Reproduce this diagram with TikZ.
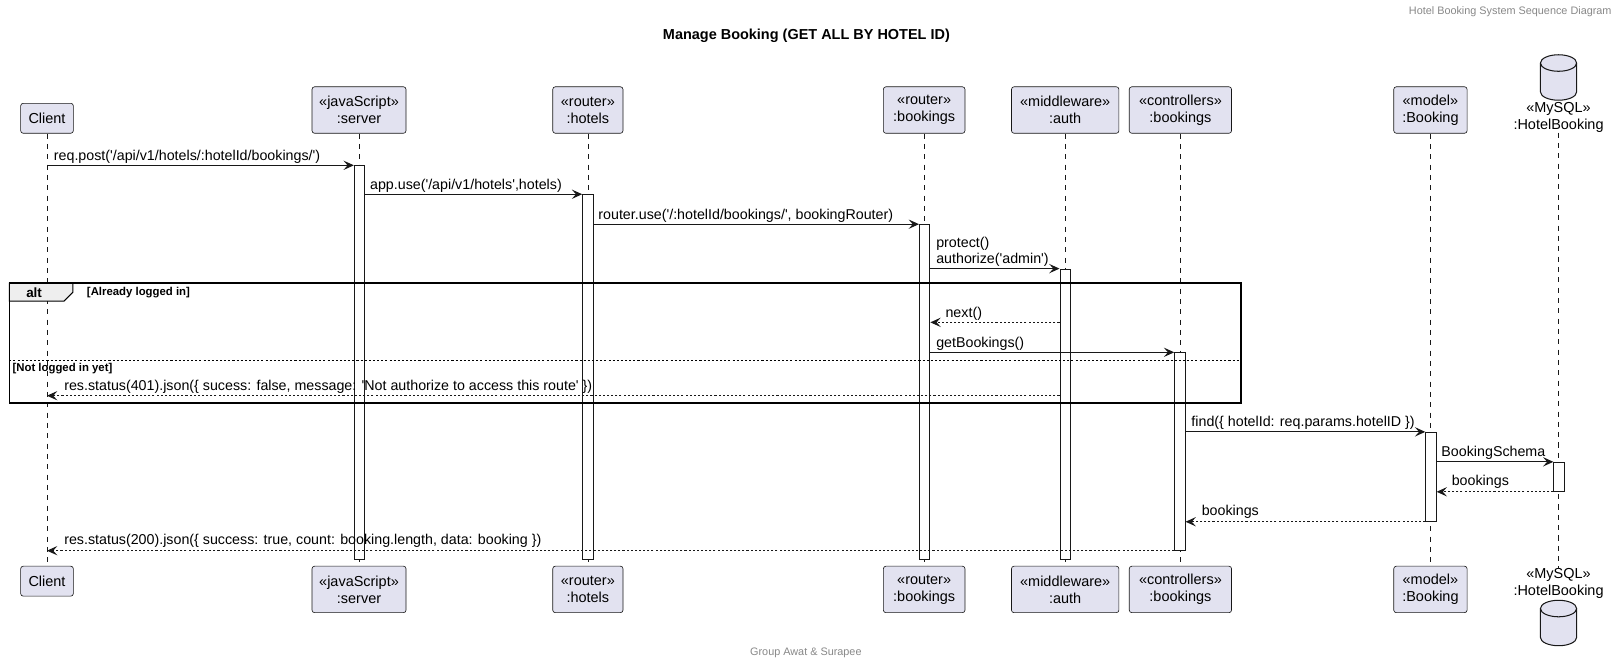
\documentclass[tikz,border=0pt]{standalone}
\usepackage{fontspec}
\newfontfamily\uf{Liberation Sans}
\usetikzlibrary{arrows.meta,calc}
\definecolor{pfill}{HTML}{E2E2F0}
\definecolor{pline}{HTML}{181818}
\definecolor{tabfill}{HTML}{EEEEEE}
\definecolor{hdr}{HTML}{888888}
\tikzset{
  part/.style={draw=pline, fill=pfill, line width=0.6pt, rounded corners=2.5pt, align=center,
    inner sep=0pt, font=\uf\fontsize{14}{16.5}\selectfont, minimum height=45pt},
  partone/.style={part, minimum height=29pt},
  dbtext/.style={align=center, inner sep=0pt, font=\uf\fontsize{14}{16.5}\selectfont},
  life/.style={draw=pline, line width=0.5pt, dash pattern=on 5pt off 5pt},
  actbar/.style={draw=pline, fill=white, line width=1pt, minimum width=10pt, inner sep=0pt, anchor=north},
  msg/.style={draw=pline, line width=1pt, -{Stealth[length=10pt,width=9pt,inset=4pt]}},
  ret/.style={msg, dash pattern=on 2pt off 2pt},
  lbl/.style={font=\uf\fontsize{13.8}{15}\selectfont, anchor=base west, inner sep=0pt},
  guard/.style={font=\uf\bfseries\fontsize{11}{13}\selectfont, anchor=west, inner sep=0pt},
  frame/.style={draw=black, line width=1.5pt},
  tabshape/.style={draw=black, fill=tabfill, line width=1pt},
  sepline/.style={draw=black, line width=0.8pt, dash pattern=on 2pt off 2pt},
  cyl/.style={draw=pline, fill=pfill, line width=1pt},
  smalltext/.style={font=\uf\fontsize{10.5}{12}\selectfont, text=hdr, inner sep=0pt}
}
\begin{document}
\begin{tikzpicture}[x=1pt,y=-1pt]
\fill[white] (0,0) rectangle (1568,644);
\useasboundingbox (0,0) rectangle (1568,644);

% header, title, footer
\node[smalltext, anchor=east] (hdrtxt) at (1560,11) {Hotel Booking System Sequence Diagram};
\node[font=\uf\bfseries\fontsize{14}{16}\selectfont, inner sep=0pt] (title) at (780.5,35) {Manage Booking (GET ALL BY HOTEL ID)};
\node[smalltext] (footer) at (780,632) {Group Awat \& Surapee};

% participants (top)
\node[partone, minimum width=51pt] (tC) at (45.5,114.5) {Client};
\node[part, minimum width=91pt] (tS) at (347.5,106.5) {«javaScript»\\:server};
\node[part, minimum width=68pt] (tH) at (569,106.5) {«router»\\:hotels};
\node[part, minimum width=79pt] (tB) at (894.5,106.5) {«router»\\:bookings};
\node[part, minimum width=104pt] (tA) at (1031,106.5) {«middleware»\\:auth};
\node[part, minimum width=99pt] (tK) at (1142.5,106.5) {«controllers»\\:bookings};
\node[part, minimum width=71pt] (tM) at (1384.5,106.5) {«model»\\:Booking};
\node[dbtext] (tD) at (1508.5,113.5) {«MySQL»\\:HotelBooking};

% participants (bottom)
\node[partone, minimum width=51pt] (bC) at (45.5,562.5) {Client};
\node[part, minimum width=91pt] (bS) at (347.5,570.5) {«javaScript»\\:server};
\node[part, minimum width=68pt] (bH) at (569,570.5) {«router»\\:hotels};
\node[part, minimum width=79pt] (bB) at (894.5,570.5) {«router»\\:bookings};
\node[part, minimum width=104pt] (bA) at (1031,570.5) {«middleware»\\:auth};
\node[part, minimum width=99pt] (bK) at (1142.5,570.5) {«controllers»\\:bookings};
\node[part, minimum width=71pt] (bM) at (1384.5,570.5) {«model»\\:Booking};
\node[dbtext] (bD) at (1508.5,565) {«MySQL»\\:HotelBooking};

% database cylinders
\foreach \cy/\by in {61/89, 589/617}{
  \draw[cyl] (1491,\cy) -- (1491,\by) arc[start angle=180, end angle=0, x radius=17.5, y radius=8]
     -- (1526,\cy) arc[start angle=0, end angle=-180, x radius=17.5, y radius=8] -- cycle;
  \draw[cyl, fill=none] (1491,\cy) arc[start angle=180, end angle=0, x radius=17.5, y radius=8];
}

% lifelines
\foreach \n in {C,S,H,B,A,K,M,D}{
  \draw[life] (t\n.south) -- (b\n.north);
}

% activation bars
\node[actbar, minimum height=381pt] (aS) at (348,160) {};
\node[actbar, minimum height=353pt] (aH) at (569,188) {};
\node[actbar, minimum height=324pt] (aB) at (895,217) {};
\node[actbar, minimum height=281pt] (aA) at (1031,260) {};
\node[actbar, minimum height=191pt] (aK) at (1142,341) {};
\node[actbar, minimum height=86pt] (aM) at (1385,418) {};
\node[actbar, minimum height=28pt] (aD) at (1509,447) {};

% alt frame
\draw[tabshape] (9,274) -- (70.5,274) -- (70.5,283) -- (62,291.5) -- (9,291.5) -- cycle;
\draw[frame] (9,274) rectangle (1201,390);
\node[font=\uf\bfseries\fontsize{13}{15}\selectfont, inner sep=0pt] (altlbl) at (33,283) {alt};
\node[guard] (g1) at (84,283) {[Already logged in]};
\draw[sepline] (9,349) -- (1201,349);
\node[guard] (g2) at (12,356.5) {[Not logged in yet]};

% message levels
\coordinate (y1) at (0,160);
\coordinate (y5) at (0,312);
\coordinate (y7) at (0,383);

% messages
\draw[msg] (tC.south |- y1) -- (aS.north west);
\node[lbl] (l1) at (52,155) {req.post('/api/v1/hotels/:hotelId/bookings/')};

\draw[msg] (aS.east |- aH.north) -- (aH.north west);
\node[lbl] (l2) at (358,183) {app.use('/api/v1/hotels',hotels)};

\draw[msg] (aH.east |- aB.north) -- (aB.north west);
\node[lbl] (l3) at (579,212) {router.use('/:hotelId/bookings/', bookingRouter)};

\draw[msg] (aB.east |- aA.north) -- (aA.north west);
\node[lbl] (l4a) at (906,240) {protect()};
\node[lbl] (l4b) at (906,255) {authorize('admin')};

\draw[ret] (aA.west |- y5) -- (aB.east |- y5);
\node[lbl] (l5) at (915,307) {next()};

\draw[msg] (aB.east |- aK.north) -- (aK.north west);
\node[lbl] (l6) at (906,336) {getBookings()};

\draw[ret] (aA.west |- y7) -- (tC.south |- y7);
\node[lbl] (l7) at (62,378) {res.status(401).json(\{ sucess: false, message: 'Not authorize to access this route' \})};

\draw[msg] (aK.east |- aM.north) -- (aM.north west);
\node[lbl] (l8) at (1153,413) {find(\{ hotelId: req.params.hotelID \})};

\draw[msg] (aM.east |- aD.north) -- (aD.north west);
\node[lbl] (l9) at (1395,442) {BookingSchema};

\draw[ret] (aD.south west) -- (aM.east |- aD.south);
\node[lbl] (l10) at (1405,470) {bookings};

\draw[ret] (aM.south west) -- (aK.east |- aM.south);
\node[lbl] (l11) at (1163,499) {bookings};

\draw[ret] (aK.south west) -- (tC.south |- aK.south);
\node[lbl] (l12) at (62,527) {res.status(200).json(\{ success: true, count: booking.length, data: booking \})};

\end{tikzpicture}
\end{document}
